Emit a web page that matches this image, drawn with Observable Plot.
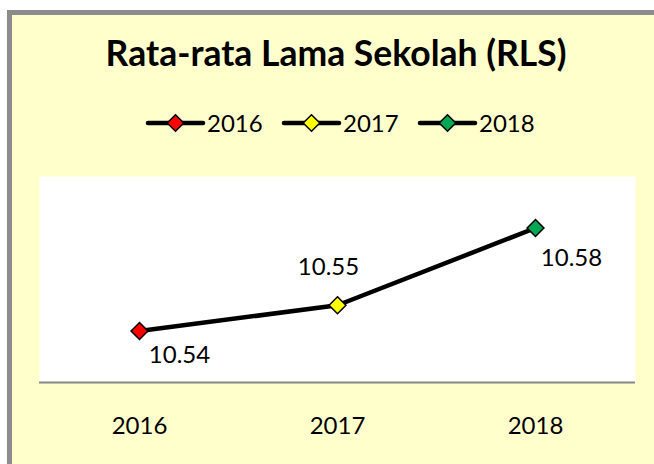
<!DOCTYPE html>
<html>
<head>
<meta charset="utf-8">
<script src="https://cdn.jsdelivr.net/npm/d3@7"></script>
<script src="https://cdn.jsdelivr.net/npm/@observablehq/plot@0.6"></script>
<style>
  html, body { margin: 0; padding: 0; background: #ffffff; }
  #wrap { position: relative; width: 654px; height: 464px; overflow: hidden; }
  #panel { position: absolute; left: 7px; top: 10px; width: 700px; height: 500px;
           background: #ffffcc; border-left: 5px solid #8c8c8c; border-top: 5px solid #8c8c8c; }
  #wrap svg { position: absolute; left: 0; top: 0; }
</style>
</head>
<body>
<div id="wrap"><div id="panel"></div></div>
<script>
const title = "Rata-rata Lama Sekolah (RLS)";
const years = ["2016", "2017", "2018"];
const values = [10.54, 10.55, 10.58];
const labels = ["10.54", "10.55", "10.58"];
const colors = ["#ff0000", "#ffff00", "#00a651"];
const yDomain = [10.52, 10.60];

const data = years.map((y, i) => ({year: y, value: values[i], label: labels[i], color: colors[i]}));

// label offsets (layout)
const labelOffsets = [[40, 24], [-9, -38], [36, 30]];
const font = "Lato, 'Open Sans', sans-serif";
const fs = 24;

const wrap = document.getElementById("wrap");

const chart = Plot.plot({
  width: 654,
  height: 464,
  marginTop: 176,
  marginBottom: 82,
  marginLeft: 39,
  marginRight: 19,
  style: {background: "transparent", fontFamily: font, fontSize: fs + "px", color: "#000"},
  x: {type: "band", domain: years, padding: 0, label: null},
  y: {domain: yDomain, axis: null},
  marks: [
    Plot.frame({fill: "#ffffff", stroke: null}),
    Plot.ruleY([yDomain[0]], {stroke: "#888888", strokeWidth: 2}),
    Plot.axisX({tickSize: 0, tickPadding: 34, fontSize: fs, label: null}),
    Plot.line(data, {x: "year", y: "value", stroke: "#000", strokeWidth: 4.5, strokeLinejoin: "round"}),
    Plot.dot(data, {x: "year", y: "value", symbol: "diamond2", r: 7.6, fill: "color", stroke: "#000", strokeWidth: 1.5}),
    ...data.map((d, i) => Plot.text([d], {
      x: "year", y: "value", text: "label",
      dx: labelOffsets[i][0], dy: labelOffsets[i][1],
      fontSize: fs, fill: "#000"
    }))
  ]
});
wrap.appendChild(chart);

// Title and legend overlay
const overlay = d3.select(wrap).append("svg")
  .attr("width", 654).attr("height", 464)
  .style("font-family", font);

overlay.append("text")
  .attr("x", 336).attr("y", 66)
  .attr("text-anchor", "middle")
  .attr("font-weight", "bold")
  .attr("font-size", 35.5)
  .attr("fill", "#000")
  .text(title);

const legendStart = 148, legendStep = 136, legendY = 123, lineLen = 55, half = 8.3;
const items = overlay.selectAll("g.item").data(data).join("g")
  .attr("transform", (d, i) => `translate(${legendStart + i * legendStep},${legendY})`);
items.append("line")
  .attr("x1", 0).attr("x2", lineLen).attr("y1", 0).attr("y2", 0)
  .attr("stroke", "#000").attr("stroke-width", 4.5).attr("stroke-linecap", "round");
items.append("path")
  .attr("d", `M${lineLen/2},${-half}L${lineLen/2 + half},0L${lineLen/2},${half}L${lineLen/2 - half},0Z`)
  .attr("fill", d => d.color).attr("stroke", "#000").attr("stroke-width", 1.5);
items.append("text")
  .attr("x", lineLen + 4).attr("y", 0).attr("dy", "0.36em")
  .attr("font-size", fs).attr("fill", "#000")
  .text(d => d.year);
</script>
</body>
</html>
